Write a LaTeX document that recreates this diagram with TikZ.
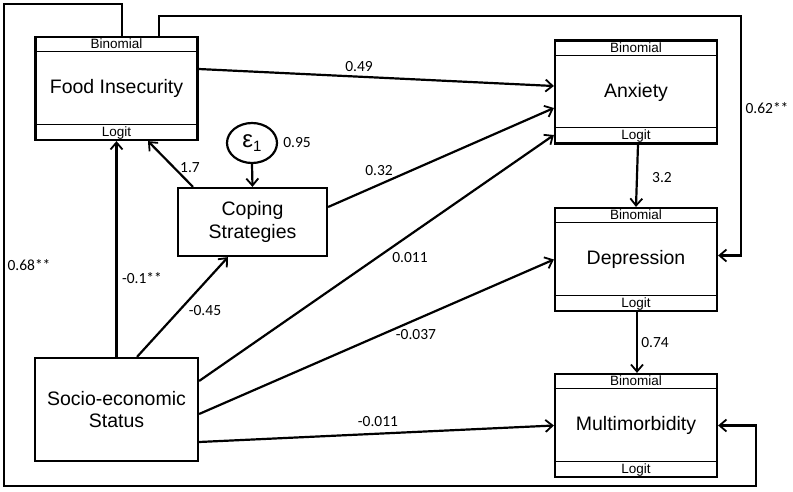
\documentclass[tikz,border=0pt]{standalone}
\usepackage{fontspec}
\setmainfont{Liberation Sans}
\newfontfamily\labfont{Carlito}
\usetikzlibrary{arrows.meta,shapes.geometric}
\tikzset{
  box/.style={draw, line width=2.2pt, rectangle, inner sep=0pt, align=center,
    font=\fontsize{19.5}{22.5}\selectfont},
  tri/.style={box, minimum width=162pt, minimum height=103pt},
  small/.style={inner sep=0pt, font=\fontsize{13.5}{13.5}\selectfont},
  divider/.style={line width=1pt},
  arr/.style={line width=2.2pt, -{Straight Barb[length=7pt,width=12pt,line width=1.8pt]}},
  elab/.style={inner sep=0pt, font=\labfont\fontsize{15.5}{15.5}\selectfont}
}
\newcommand{\threepart}[4]{%
  \node[tri] (#1) at (#2,#3) {#4};
  \draw[divider] ([yshift=-16pt]#1.north west) -- ([yshift=-16pt]#1.north east);
  \draw[divider] ([yshift=17pt]#1.south west) -- ([yshift=17pt]#1.south east);
  \node[small] (#1b) at ([yshift=-8pt]#1.north) {Binomial};
  \node[small] (#1l) at ([yshift=8.5pt]#1.south) {Logit};
}
\begin{document}
\begin{tikzpicture}[x=1pt,y=-1pt]
\useasboundingbox (0,0) rectangle (793,491);
% three-part boxes
\threepart{fi}{116.5}{88.5}{Food Insecurity}
\threepart{anx}{636}{92}{Anxiety}
\threepart{dep}{636}{259.5}{Depression}
\threepart{mm}{636}{425.5}{Multimorbidity}
% plain boxes
\node[box, minimum width=149pt, minimum height=68pt] (cope) at (252.5,222) {Coping\\Strategies};
\node[box, minimum width=163pt, minimum height=103pt] (ses) at (116.5,409.5) {Socio-economic\\Status};
\node[draw, ellipse, line width=2.2pt, minimum width=50pt, minimum height=40pt, inner sep=0pt] (eps) at (252,143)
  {\fontsize{24}{24}\selectfont ε\raisebox{-4pt}{\fontsize{15}{15}\selectfont 1}};
% corner coordinates
\coordinate (c1) at (4,4);
\coordinate (c2) at (756,486);
\coordinate (c3) at (741,16);
% connectors
\draw[arr] ([xshift=5.5pt]fi.north) |- (c1) |- (c2) |- (mm.east);
\draw[arr] ([xshift=42.5pt]fi.north) |- (c3) |- ([yshift=4pt]dep.east);
\draw[arr] ([yshift=19.5pt]fi.east) -- ([yshift=6pt]anx.west);
\draw[arr] ([yshift=15pt]cope.east) -- ([yshift=-16pt]anx.west);
\draw[arr] ([xshift=-59.5pt]cope.north) -- ([xshift=31.5pt]fi.south);
\draw[arr] (eps.south) -- (cope.north);
\draw[arr] (ses.north) -- (fi.south);
\draw[arr] ([xshift=20.5pt]ses.north) -- ([xshift=-24.5pt]cope.south);
\draw[arr] ([yshift=28.5pt]ses.east) -- ([yshift=-43pt]anx.west);
\draw[arr] ([yshift=-4.5pt]ses.east) -- (dep.west);
\draw[arr] ([yshift=-32.5pt]ses.east) -- (mm.west);
\draw[arr] ([xshift=2pt]anx.south) -- (dep.north);
\draw[arr] ([xshift=1pt]dep.south) -- ([xshift=1pt]mm.north);
% labels
\node[elab] (l1) at (29,265) {0.68**};
\node[elab] (l2) at (767,108) {0.62**};
\node[elab] (l3) at (359,67) {0.49};
\node[elab] (l4) at (379,171) {0.32};
\node[elab] (l5) at (190,168) {1.7};
\node[elab] (l6) at (142,278) {-0.1**};
\node[elab] (l7) at (205,311) {-0.45};
\node[elab] (l8) at (410,258) {0.011};
\node[elab] (l9) at (416,335) {-0.037};
\node[elab] (l10) at (378,422) {-0.011};
\node[elab] (l11) at (662,178) {3.2};
\node[elab] (l12) at (655,343) {0.74};
\node[elab] (l13) at (297,143) {0.95};
\end{tikzpicture}
\end{document}
